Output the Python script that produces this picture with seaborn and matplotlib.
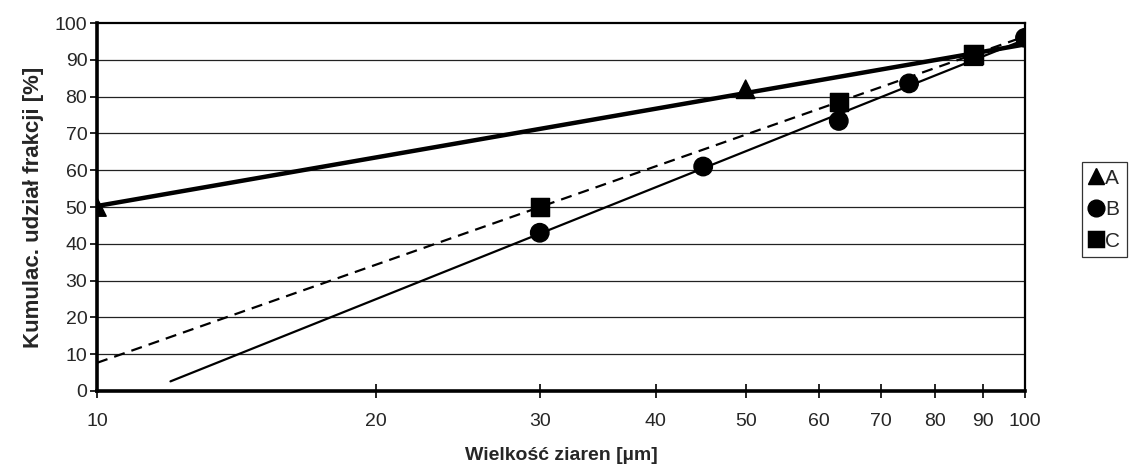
import numpy as np
import pandas as pd
import seaborn as sns
import matplotlib.pyplot as plt
from matplotlib.ticker import FixedLocator, FixedFormatter, NullLocator

# values
series = ["A", "B", "C"]
a_size = [10, 50, 88]
a_share = [50, 82, 91]
b_size = [30, 45, 63, 75, 100]
b_share = [43, 61, 73.4, 83.6, 96]
c_size = [30, 63, 88]
c_share = [50, 78.5, 91.5]

# logarithmic trendlines (Excel style), drawn over these size ranges
trend_from = [10, 12, 10]
trend_to = [100, 100, 100]

x_ticks = [10, 20, 30, 40, 50, 60, 70, 80, 90, 100]
y_ticks = [0, 10, 20, 30, 40, 50, 60, 70, 80, 90, 100]

sizes = [a_size, b_size, c_size]
shares = [a_share, b_share, c_share]

df = pd.concat(
    [pd.DataFrame({"size": s, "share": v, "series": n}) for n, s, v in zip(series, sizes, shares)],
    ignore_index=True,
)

sns.set_style("white")
plt.rcParams["font.family"] = ["Liberation Sans", "DejaVu Sans"]

fig, ax = plt.subplots(figsize=(11.37, 4.71), dpi=100)
fig.subplots_adjust(left=0.0853, right=0.9015, top=0.951, bottom=0.170)

ax.set_xscale("log")
ax.set_xlim(10, 100)
ax.set_ylim(0, 100)

for y in y_ticks[1:-1]:
    ax.axhline(y, color="#222222", lw=0.9, zorder=0)

line_styles = {"A": ("-", 3.2), "B": ("-", 1.6), "C": ((0, (5, 3.2)), 1.6)}
for n, s, v, x0, x1 in zip(series, sizes, shares, trend_from, trend_to):
    k, b = np.polyfit(np.log10(s), v, 1)
    grid = np.geomspace(x0, x1, 60)
    tdf = pd.DataFrame({"size": grid, "share": k * np.log10(grid) + b})
    ls, lw = line_styles[n]
    sns.lineplot(data=tdf, x="size", y="share", ax=ax, color="black",
                 linestyle=ls, linewidth=lw, zorder=2)

sns.scatterplot(
    data=df, x="size", y="share", style="series",
    markers={"A": "^", "B": "o", "C": "s"},
    color="black", edgecolor="black", s=175, ax=ax, zorder=3, legend=True,
)

ax.xaxis.set_major_locator(FixedLocator(x_ticks))
ax.xaxis.set_major_formatter(FixedFormatter([str(t) for t in x_ticks]))
ax.xaxis.set_minor_locator(NullLocator())
ax.set_yticks(y_ticks)

ax.tick_params(axis="x", which="major", direction="inout", length=10, width=1.2,
               color="black", labelsize=14, pad=11, bottom=True)
ax.tick_params(axis="y", which="major", direction="out", length=5, width=1.2,
               color="black", labelsize=14, pad=2, left=True)

for side in ["top", "right"]:
    ax.spines[side].set_linewidth(1.6)
    ax.spines[side].set_color("black")
for side in ["left", "bottom"]:
    ax.spines[side].set_linewidth(2.6)
    ax.spines[side].set_color("black")

ax.set_xlabel("Wielkość ziaren [µm]", fontsize=14, fontweight="bold", labelpad=12)
ax.set_ylabel("Kumulac. udział frakcji [%]", fontsize=16, fontweight="bold", labelpad=8)

handles, labels = ax.get_legend_handles_labels()
ax.legend_.remove()
for h in handles:
    h.set_markersize(12)
leg = fig.legend(
    handles, labels, loc="upper left", bbox_to_anchor=(0.952, 0.655),
    frameon=True, fancybox=False, fontsize=15, handlelength=0.7,
    handletextpad=0.1, borderpad=0.3, labelspacing=0.6, borderaxespad=0,
)
leg.get_frame().set_edgecolor("black")
leg.get_frame().set_linewidth(0.9)

fig.savefig("out.png", dpi=100)
